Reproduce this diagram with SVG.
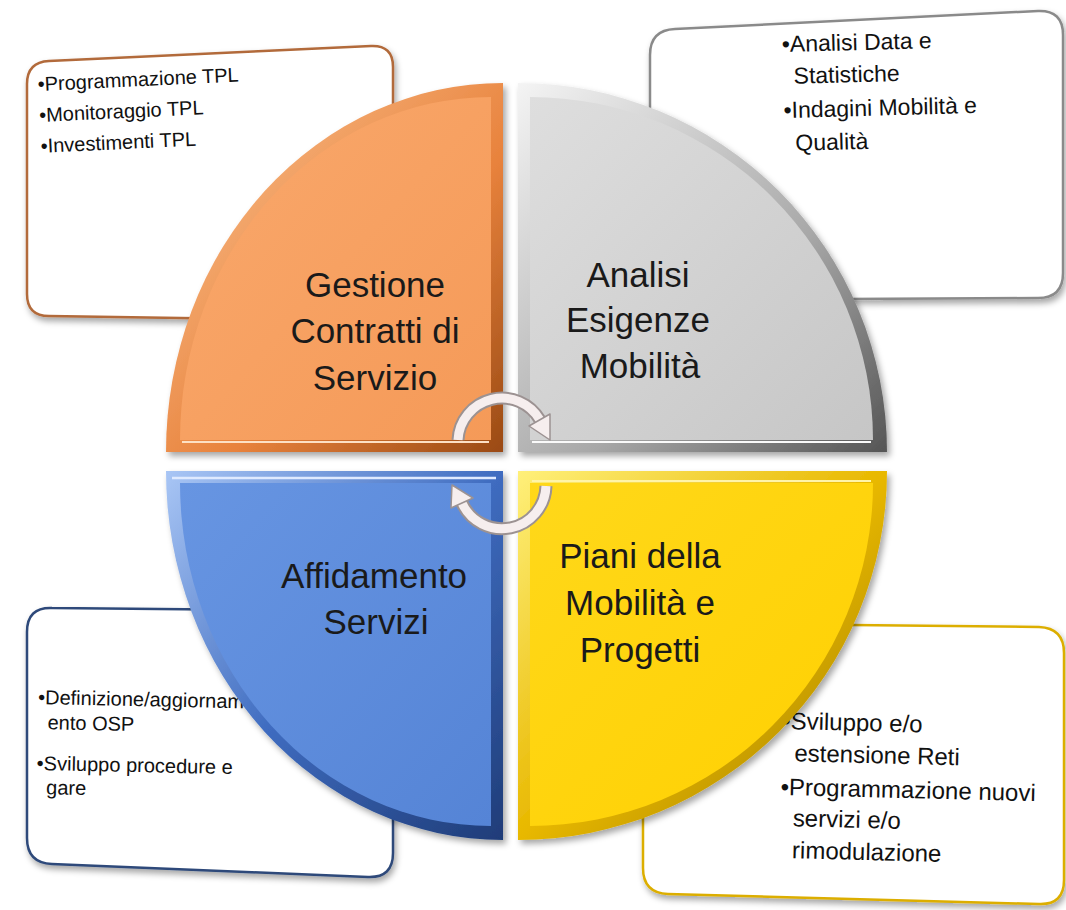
<svg xmlns="http://www.w3.org/2000/svg" width="1066" height="910" viewBox="0 0 1066 910">
<defs>
<style>
.box{fill:#ffffff;stroke-width:2.5;filter:url(#sh)}
.bt{font-family:"Liberation Sans",Arial,sans-serif;fill:#111}
.lbl{font-family:"Liberation Sans",Arial,sans-serif;font-size:35px;fill:#1a1a1a;text-anchor:middle}
.arcO{fill:none;stroke:#9c9292;stroke-width:13}
.arcI{fill:none;stroke:#f6eeee;stroke-width:9}
.head{fill:#f6eeee;stroke:#9c9292;stroke-width:1.5;stroke-linejoin:round}
</style>
<filter id="sh" x="-10%" y="-10%" width="125%" height="125%">
<feDropShadow dx="2" dy="4" stdDeviation="3" flood-color="#000" flood-opacity="0.35"/>
</filter>
<filter id="sh2" x="-10%" y="-10%" width="125%" height="125%">
<feDropShadow dx="3" dy="4" stdDeviation="3" flood-color="#000" flood-opacity="0.35"/>
</filter>
<linearGradient id="oR" x1="0" y1="0" x2="1" y2="1"><stop offset="0" stop-color="#fcc796"/><stop offset="0.6" stop-color="#e8823c"/><stop offset="1" stop-color="#9a4a14"/></linearGradient>
<linearGradient id="oI" x1="0" y1="0" x2="1" y2="1"><stop offset="0" stop-color="#f9a86c"/><stop offset="1" stop-color="#f59a58"/></linearGradient>
<linearGradient id="gR" x1="0" y1="0" x2="1" y2="1"><stop offset="0" stop-color="#f4f4f4"/><stop offset="0.6" stop-color="#a8a8a8"/><stop offset="1" stop-color="#555"/></linearGradient>
<linearGradient id="gI" x1="0" y1="0" x2="1" y2="1"><stop offset="0" stop-color="#dedede"/><stop offset="1" stop-color="#c6c6c6"/></linearGradient>
<linearGradient id="bR" x1="0" y1="0" x2="1" y2="1"><stop offset="0" stop-color="#a9c6f5"/><stop offset="0.5" stop-color="#3f6cc0"/><stop offset="1" stop-color="#1f3c78"/></linearGradient>
<linearGradient id="bI" x1="0" y1="0" x2="1" y2="1"><stop offset="0" stop-color="#6795e2"/><stop offset="1" stop-color="#5584d6"/></linearGradient>
<linearGradient id="yR" x1="0" y1="0" x2="1" y2="1"><stop offset="0" stop-color="#fff07a"/><stop offset="0.5" stop-color="#e8b800"/><stop offset="1" stop-color="#9a7800"/></linearGradient>
<linearGradient id="yI" x1="0" y1="0" x2="1" y2="1"><stop offset="0" stop-color="#ffd81a"/><stop offset="1" stop-color="#ffd000"/></linearGradient>
</defs>

<g id="box-tl">
<path class="box" stroke="#b26a3a" d="M49,61 L371,46 Q393,45 393,67 L393,300 Q393,322 371,321 L49,316 Q27,316 27,294 L27,84 Q27,62 49,61 Z"/>
<g class="bt" font-size="20" transform="rotate(-2.7 38 91)">
<text x="38" y="91">•Programmazione TPL</text>
<text x="38" y="122">•Monitoraggio TPL</text>
<text x="38" y="153">•Investimenti TPL</text>
</g>
</g>

<g id="box-tr">
<path class="box" stroke="#8a8a8a" d="M675,29 L1038,11 Q1063,10 1063,35 L1063,273 Q1063,298 1038,298 L675,300 Q650,300 650,275 L650,55 Q650,30 675,29 Z"/>
<g class="bt" font-size="23" transform="rotate(-1.5 784 52)">
<text x="782" y="52">•Analisi Data e</text>
<text x="793" y="84">Statistiche</text>
<text x="782" y="118">•Indagini Mobilità e</text>
<text x="793" y="151">Qualità</text>
</g>
</g>

<g id="box-bl">
<path class="box" stroke="#2e4a7a" d="M52,608 L368,611 Q393,612 393,637 L393,853 Q393,878 368,877 L52,864 Q27,863 27,838 L27,632 Q27,607 52,608 Z"/>
<g class="bt" font-size="20" transform="rotate(1.2 38 704)">
<text x="38" y="704">•Definizione/aggiornam</text>
<text x="48" y="729">ento OSP</text>
<text x="38" y="770">•Sviluppo procedure e</text>
<text x="48" y="794">gare</text>
</g>
</g>

<g id="box-br">
<path class="box" stroke="#dcae00" d="M668,623 L1039,627 Q1064,628 1064,653 L1064,880 Q1064,905 1039,904 L668,894 Q643,893 643,868 L643,648 Q643,623 668,623 Z"/>
<g class="bt" font-size="24" transform="rotate(1.4 784 729)">
<text x="782" y="729">•Sviluppo e/o</text>
<text x="795" y="761">estensione Reti</text>
<text x="782" y="795">•Programmazione nuovi</text>
<text x="795" y="826">servizi e/o</text>
<text x="795" y="858">rimodulazione</text>
</g>
</g>

<g id="sector-gestione">
<path fill="url(#oR)" filter="url(#sh2)" d="M503,452 L166,452 A337,369 0 0 1 503,83 Z"/>
<path fill="url(#oI)" d="M491,440 L180,440 A311,343 0 0 1 491,97 Z"/>
<path fill="none" stroke="#fde0c4" stroke-width="2" d="M182,442 L489,442"/>
<text class="lbl" x="375" y="297">Gestione</text>
<text class="lbl" x="375" y="343">Contratti di</text>
<text class="lbl" x="375" y="390">Servizio</text>
</g>

<g id="sector-analisi">
<path fill="url(#gR)" filter="url(#sh2)" d="M518,452 L518,83 A369,369 0 0 1 887,452 Z"/>
<path fill="url(#gI)" d="M530,440 L530,97 A343,343 0 0 1 873,440 Z"/>
<path fill="none" stroke="#fafafa" stroke-width="2" d="M532,442 L871,442"/>
<text class="lbl" x="638" y="287">Analisi</text>
<text class="lbl" x="638" y="332">Esigenze</text>
<text class="lbl" x="640" y="378">Mobilità</text>
</g>

<g id="sector-affidamento">
<path fill="url(#bR)" filter="url(#sh2)" d="M503,471 L166,471 A337,369 0 0 0 503,840 Z"/>
<path fill="url(#bI)" d="M491,483 L180,483 A311,343 0 0 0 491,826 Z"/>
<path fill="none" stroke="#dfeaff" stroke-width="2.5" d="M172,478 L496,478"/>
<text class="lbl" x="374" y="588">Affidamento</text>
<text class="lbl" x="376" y="634">Servizi</text>
</g>

<g id="sector-piani">
<path fill="url(#yR)" filter="url(#sh2)" d="M518,471 L887,471 A369,369 0 0 1 518,840 Z"/>
<path fill="url(#yI)" d="M530,483 L873,483 A343,343 0 0 1 530,826 Z"/>
<path fill="none" stroke="#fff4a8" stroke-width="2" d="M532,481 L871,481"/>
<text class="lbl" x="640" y="568">Piani della</text>
<text class="lbl" x="640" y="615">Mobilità e</text>
<text class="lbl" x="640" y="662">Progetti</text>
</g>

<g id="connectors">
<path class="arcO" d="M458,440 A44,44 0 0 1 540,420"/>
<path class="arcI" d="M458,440 A44,44 0 0 1 540,420"/>
<polygon class="head" points="550,414 529,426 550,440"/>
<path class="arcO" d="M546,486 A44,44 0 0 1 462,503"/>
<path class="arcI" d="M546,486 A44,44 0 0 1 462,503"/>
<polygon class="head" points="473,498 451,508 452,485"/>
</g>
</svg>
